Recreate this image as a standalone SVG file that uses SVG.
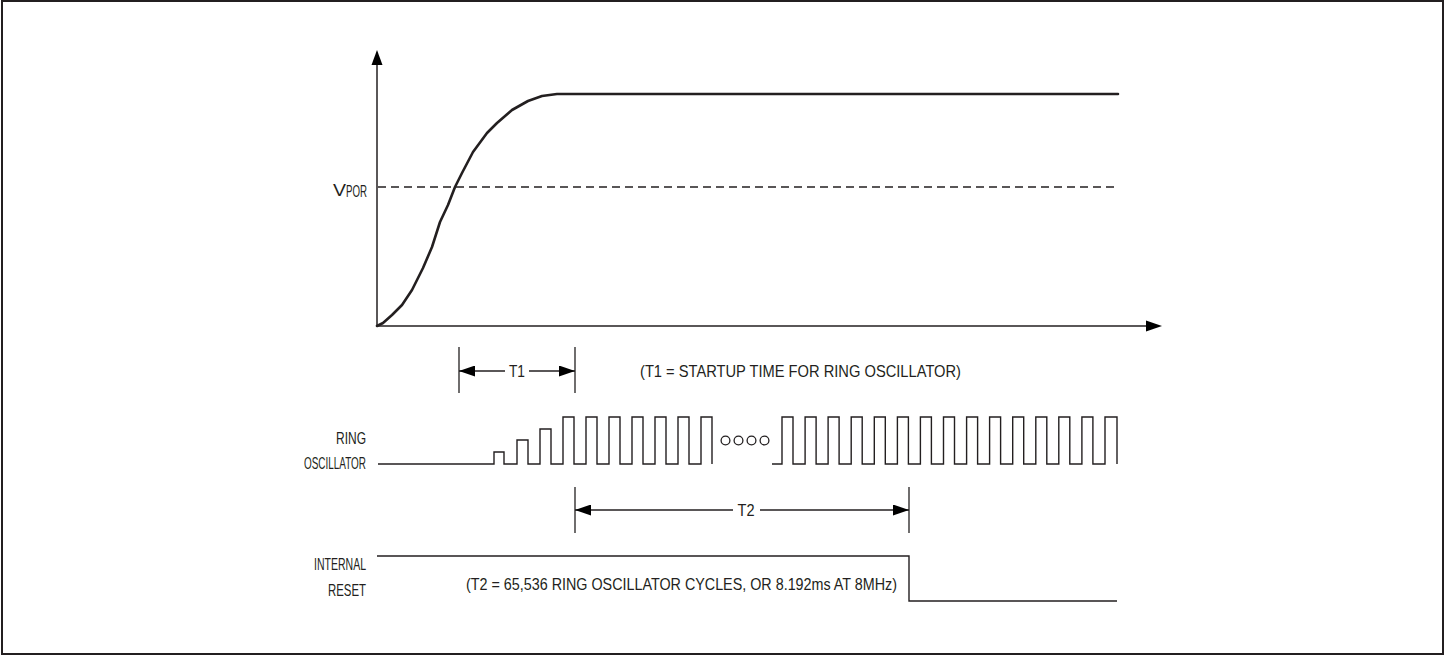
<svg xmlns="http://www.w3.org/2000/svg" width="1445" height="656" viewBox="0 0 1445 656">
  <style>
    .frame { fill: #ffffff; stroke: #231f20; stroke-width: 2; }
    .axis { fill: none; stroke: #231f20; stroke-width: 1.5; }
    .curve { fill: none; stroke: #231f20; stroke-width: 2.6; stroke-linejoin: round; stroke-linecap: round; }
    .dash { fill: none; stroke: #231f20; stroke-width: 1.4; stroke-dasharray: 8 5; }
    .wave { fill: none; stroke: #231f20; stroke-width: 1.4; stroke-linejoin: miter; }
    .thin { fill: none; stroke: #231f20; stroke-width: 1.3; }
    .head { fill: #000000; stroke: none; }
    .dot { fill: none; stroke: #231f20; stroke-width: 1.3; }
    text { font-family: "Liberation Sans Narrow", "Liberation Sans", Arial, sans-serif; fill: #231f20; font-size: 17px; }
    .r { text-anchor: end; }
    .m { text-anchor: middle; }
  </style>
  <defs>
    <marker id="tip" markerUnits="userSpaceOnUse" markerWidth="16" markerHeight="11" refX="16" refY="5.5" orient="auto">
      <path class="head" d="M0,0 L16,5.5 L0,11 Z"/>
    </marker>
  </defs>

  <rect class="frame" x="2" y="1" width="1441" height="653"/>

  <!-- voltage plot -->
  <g id="plot">
    <line class="axis" x1="377" y1="327" x2="377" y2="62"/>
    <polygon class="head" points="377,50 371.5,65 382.5,65"/>
    <line class="axis" x1="376" y1="326" x2="1148" y2="326"/>
    <polygon class="head" points="1162,326 1146,320.5 1146,331.5"/>
    <line class="dash" x1="378" y1="187" x2="1118" y2="187"/>
    <path class="curve" d="M377,326 L383,323 L392,315 L402,305 L412,290 L423,268 L432,247 L440,222 L448,205 L455,187 L462,173 L473,152 L487,133 L497,123 L512,110 L528,101 L542,96 L557,94 L1118,94"/>
    <text x="333" y="196" font-size="20" textLength="13" lengthAdjust="spacingAndGlyphs">V</text>
    <text x="346" y="197" font-size="15" textLength="21" lengthAdjust="spacingAndGlyphs">POR</text>
  </g>

  <!-- T1 interval -->
  <g id="t1">
    <line class="thin" x1="459" y1="347" x2="459" y2="393"/>
    <line class="thin" x1="575" y1="347" x2="575" y2="393"/>
    <text class="m" x="517" y="377" textLength="16" lengthAdjust="spacingAndGlyphs">T1</text>
    <text x="640" y="377" textLength="321" lengthAdjust="spacingAndGlyphs">(T1 = STARTUP TIME FOR RING OSCILLATOR)</text>
  </g>

  <!-- ring oscillator trace -->
  <g id="ring-osc">
    <text class="r" x="366" y="444" textLength="30" lengthAdjust="spacingAndGlyphs">RING</text>
    <text class="r" x="366" y="469" textLength="62" lengthAdjust="spacingAndGlyphs">OSCILLATOR</text>
    <path class="wave" d="M378,464 H494 V452 H504 V464 H517 V440 H528 V464 H540 V429 H551 V464 H563 V417 H574 V464 H586 V417 H597 V464 H609 V417 H620 V464 H632 V417 H643 V464 H655 V417 H666 V464 H678 V417 H689 V464 H701 V417 H712 V464"/>
    <circle class="dot" cx="725.5" cy="440.5" r="4.4"/>
    <circle class="dot" cx="738.5" cy="440.5" r="4.4"/>
    <circle class="dot" cx="751.5" cy="440.5" r="4.4"/>
    <circle class="dot" cx="764.5" cy="440.5" r="4.4"/>
    <path class="wave" d="M772,464 H782 V417 H793 V464 H805.1 V417 H816.1 V464 H828.1 V417 H839.1 V464 H851.2 V417 H862.2 V464 H874.3 V417 H885.3 V464 H897.4 V417 H908.4 V464 H920.4 V417 H931.4 V464 H943.5 V417 H954.5 V464 H966.6 V417 H977.6 V464 H989.6 V417 H1000.6 V464 H1012.7 V417 H1023.7 V464 H1035.8 V417 H1046.8 V464 H1058.8 V417 H1069.8 V464 H1081.9 V417 H1092.9 V464 H1105 V417 H1117 V464"/>
  </g>

  <!-- T2 interval -->
  <g id="t2">
    <line class="thin" x1="575" y1="487" x2="575" y2="533"/>
    <line class="thin" x1="909" y1="487" x2="909" y2="533"/>
    <text class="m" x="746" y="516" textLength="17" lengthAdjust="spacingAndGlyphs">T2</text>
  </g>

  <!-- internal reset trace -->
  <g id="internal-reset">
    <text class="r" x="366" y="570" textLength="52" lengthAdjust="spacingAndGlyphs">INTERNAL</text>
    <text class="r" x="366" y="596" textLength="38" lengthAdjust="spacingAndGlyphs">RESET</text>
    <path class="wave" d="M377,556 H909 V601 H1117"/>
    <text x="466" y="590" textLength="431" lengthAdjust="spacingAndGlyphs">(T2 = 65,536 RING OSCILLATOR CYCLES, OR 8.192ms AT 8MHz)</text>
  </g>

  <!-- dimension arrows -->
  <g id="connectors">
    <line class="thin" x1="505" y1="371" x2="459" y2="371" marker-end="url(#tip)"/>
    <line class="thin" x1="529" y1="371" x2="575" y2="371" marker-end="url(#tip)"/>
    <line class="thin" x1="733" y1="510" x2="575" y2="510" marker-end="url(#tip)"/>
    <line class="thin" x1="760" y1="510" x2="909" y2="510" marker-end="url(#tip)"/>
  </g>
</svg>
